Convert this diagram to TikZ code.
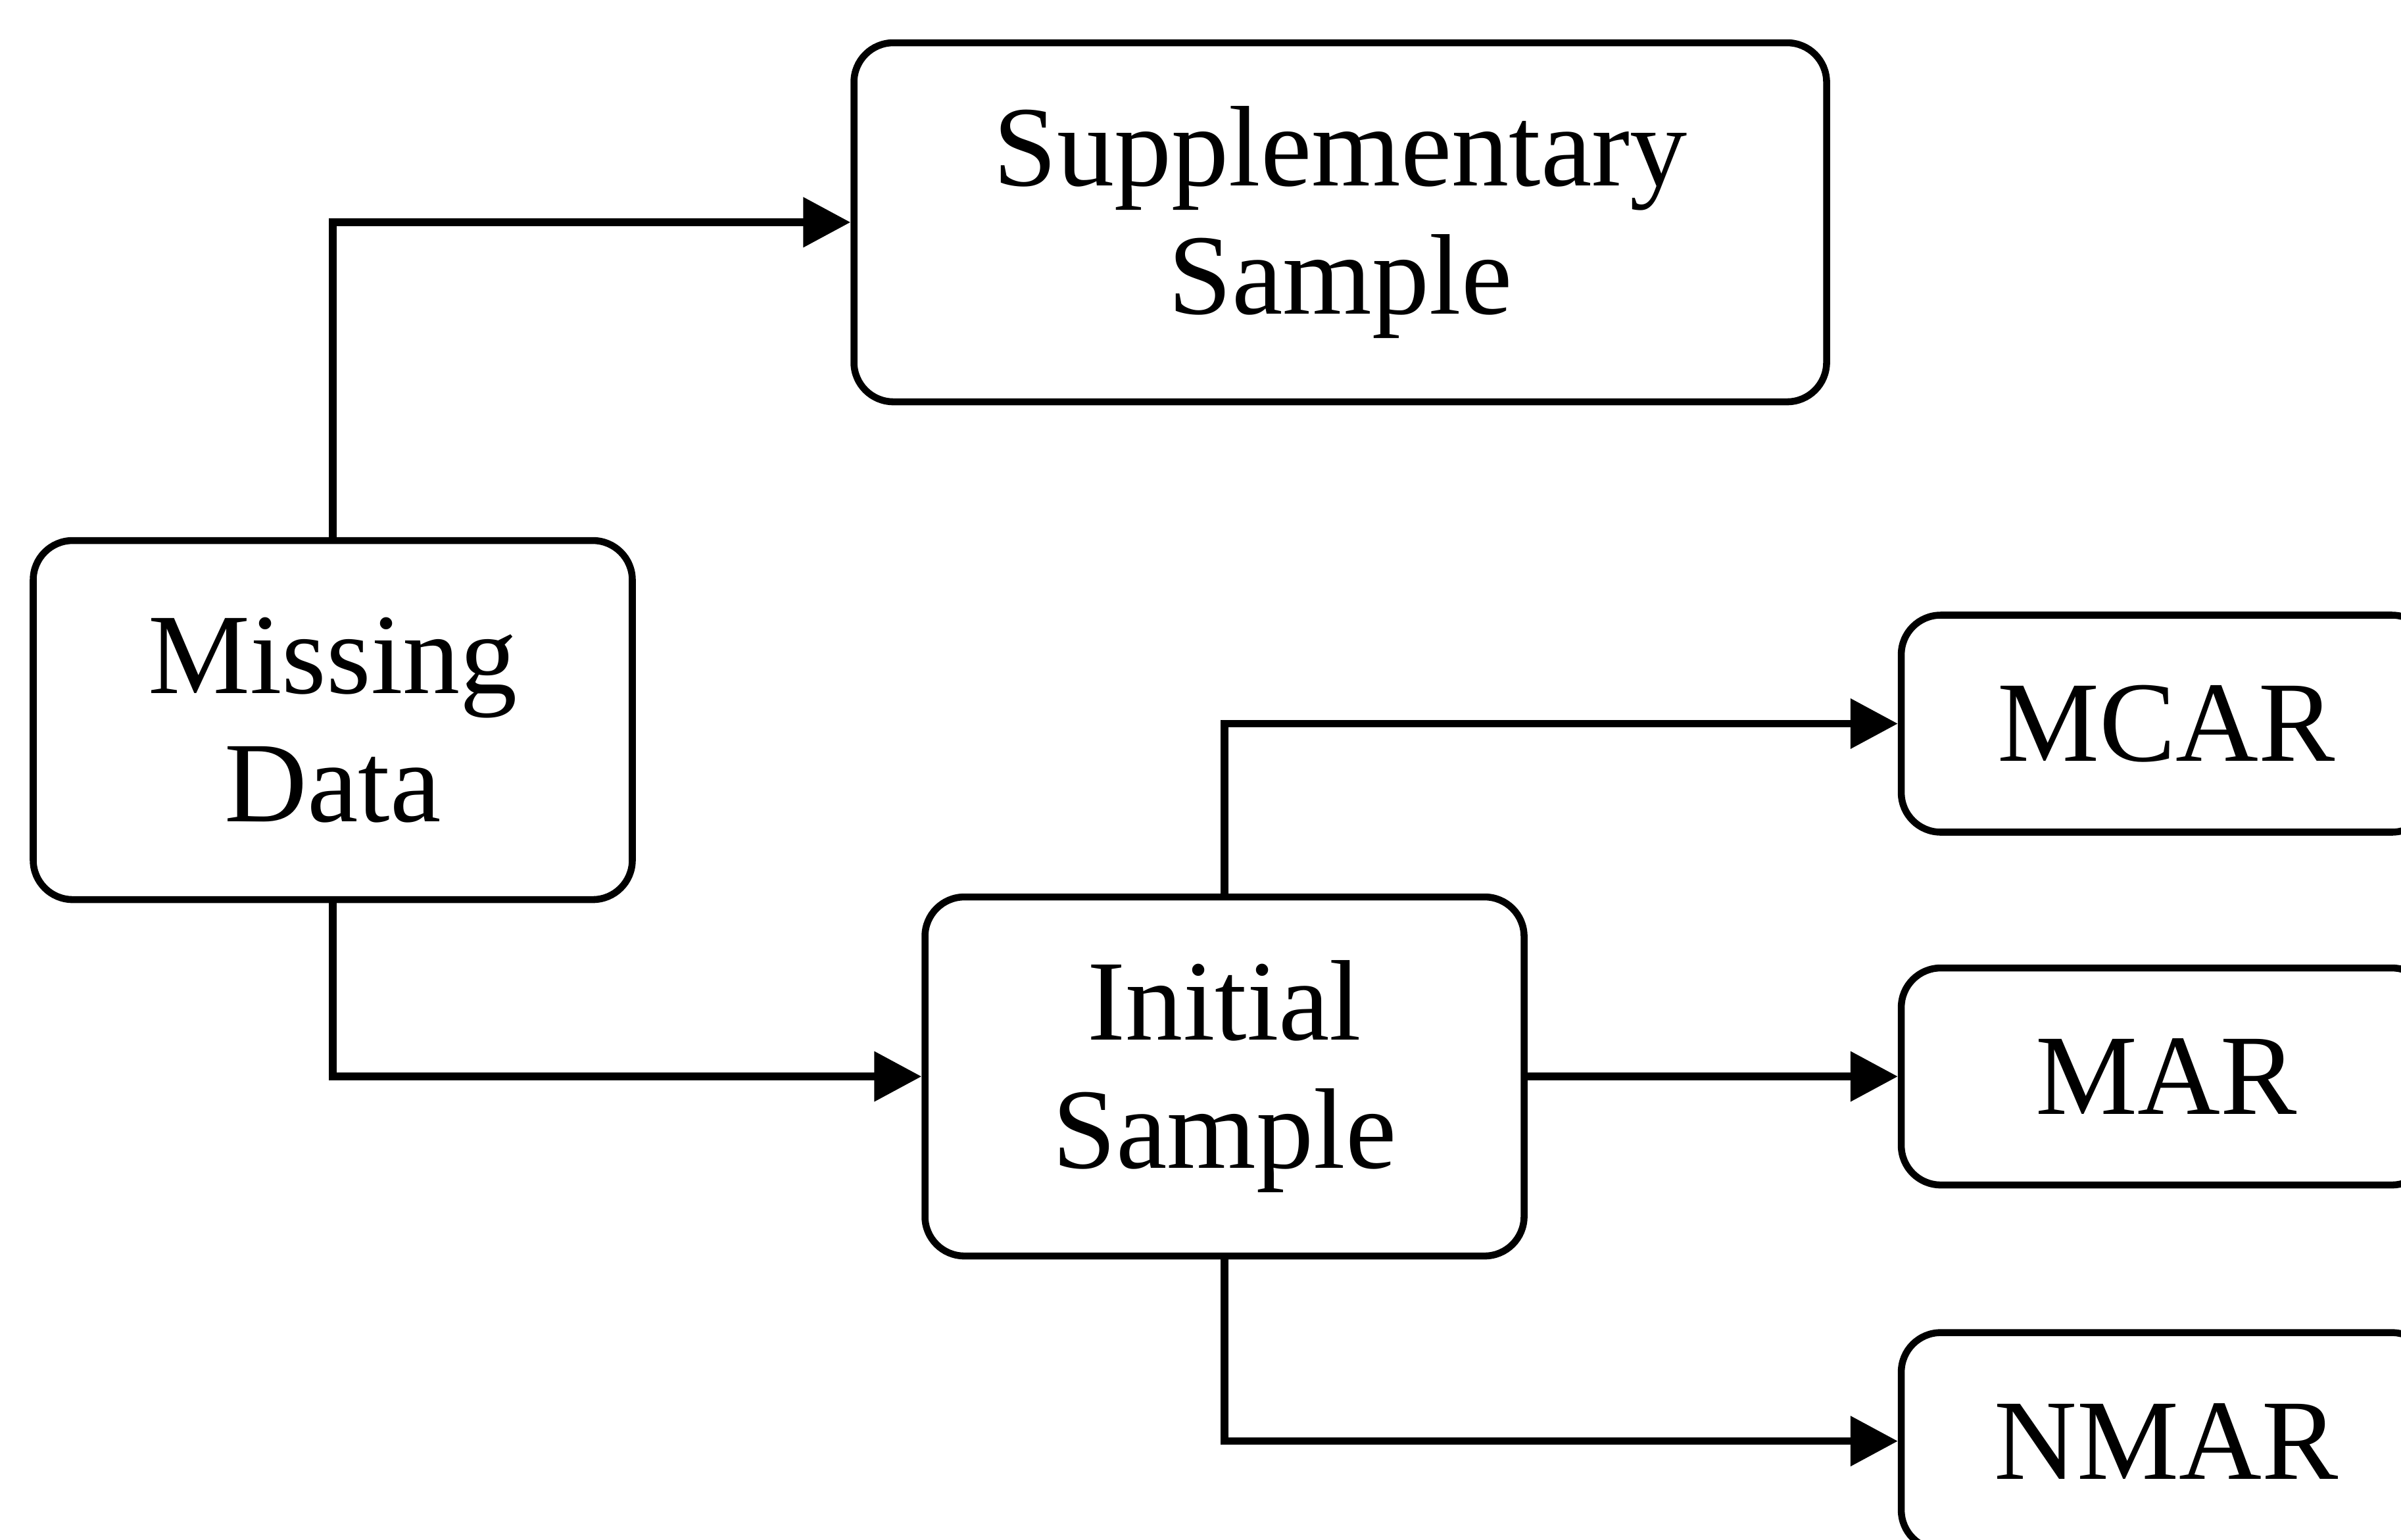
\documentclass[tikz,border=0pt]{standalone}
\usepackage{fontspec}
\setmainfont{Liberation Serif}
\usepackage{tikz}
\usetikzlibrary{positioning, calc}
\usetikzlibrary{arrows.meta}

\tikzset{
    stagebox/.style={draw, line width=1.5pt, rounded corners=0.3cm, align=center,
        inner sep=0pt, font=\fontsize{24.8}{27.8}\selectfont},
    bigbox/.style={stagebox, minimum width=4.555cm, minimum height=2.73cm},
    smallbox/.style={stagebox, minimum width=4.03cm, minimum height=1.65cm},
    link/.style={line width=1.6pt, -{Triangle[length=3.6mm, width=3.7mm]}}
}

\begin{document}
\begin{tikzpicture}
    \useasboundingbox (0,0) rectangle (18.255,-11.705);
    \clip (0,0) rectangle (18.255,-11.705);
    \node (miss) [bigbox] at (2.53,-5.475) {Missing\\Data};
    \node (supp) [bigbox, minimum width=7.395cm] at (10.19,-1.69) {Supplementary\\Sample};
    \node (init) [bigbox] at (9.31,-8.185) {Initial\\Sample};
    \node (mar) [smallbox, right=2.815cm of init] {MAR};
    \node (mcar) [smallbox, above=0.98cm of mar] {MCAR};
    \node (nmar) [smallbox, below=1.07cm of mar] {NMAR};
    \draw[link] (miss.north) |- (supp.west);
    \draw[link] (miss.south) |- (init.west);
    \draw[link] (init.north) |- (mcar.west);
    \draw[link] (init.east) -- (mar.west);
    \draw[link] (init.south) |- (nmar.west);
\end{tikzpicture}
\end{document}
